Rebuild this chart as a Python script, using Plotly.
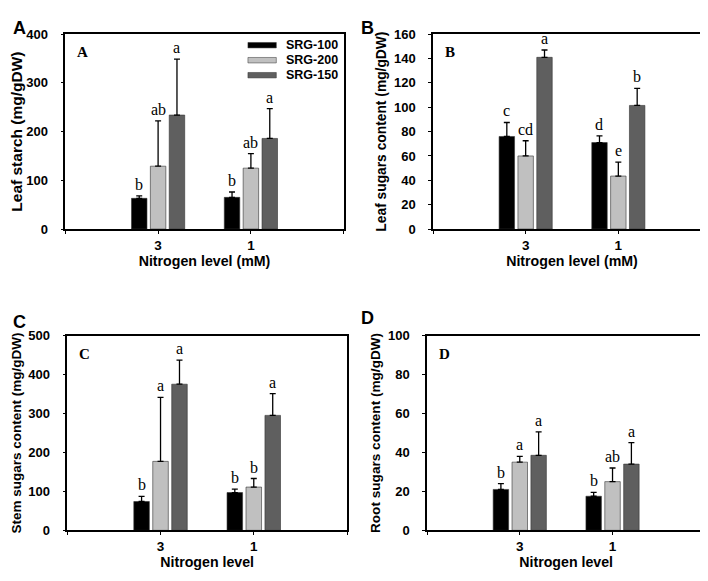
import plotly.graph_objects as go

# data
series = ["SRG-100", "SRG-200", "SRG-150"]
levels = ["3", "1"]
colors = ["#000000", "#c0c0c0", "#5f5f5f"]

starch_mean = [[63, 65], [129, 125], [234, 186]]
starch_err = [[5, 11], [93, 30], [115, 61]]
starch_let = [["b", "b"], ["ab", "ab"], ["a", "a"]]

leaf_mean = [[76, 71], [60, 43.5], [141, 101.5]]
leaf_err = [[11.5, 5.5], [12.5, 11.5], [6, 14]]
leaf_let = [["c", "d"], ["cd", "e"], ["a", "b"]]

stem_mean = [[74, 97], [177, 111], [375, 295]]
stem_err = [[13, 9], [164, 22], [62, 56]]
stem_let = [["b", "b"], ["a", "b"], ["a", "a"]]

root_mean = [[21, 17.5], [35, 25], [38.5, 34]]
root_err = [[3, 2], [3, 7], [12, 11]]
root_let = [["b", "b"], ["a", "ab"], ["a", "a"]]

W, H = 708, 581
BARGAP = 0.39

panels = [
    # key, means, errs, letters, ymax, dtick, ytitle, title size, xtitle, px box (l, r, top, bottom), tag, tag px pos
    ("", starch_mean, starch_err, starch_let, 400, 100, "Leaf starch (mg/gDW)", 15.5,
     "Nitrogen level (mM)", (57.3, 335.7, 19.7, 219.7), "A", (11, 13)),
    ("2", leaf_mean, leaf_err, leaf_let, 160, 20, "Leaf sugars content (mg/gDW)", 13.8,
     "Nitrogen level (mM)", (425, 703, 19.7, 219.7), "B", (359, 13)),
    ("3", stem_mean, stem_err, stem_let, 500, 100, "Stem sugars content (mg/gDW)", 13.5,
     "Nitrogen level", (59.3, 339, 329, 529), "C", (11, 315)),
    ("4", root_mean, root_err, root_let, 100, 20, "Root sugars content (mg/gDW)", 13.6,
     "Nitrogen level", (419, 697.3, 329, 529), "D", (359, 311)),
]

fig = go.Figure()
annotations = []
shapes = []
xpos = [1, 2]
bold = dict(family="Arial", color="black", weight="bold")

for key, means, errs, lets, ymax, dtick, ytitle, ysize, xtitle, box, tag, tagpos in panels:
    l, r, t, b = box
    xa, ya = "x" + key, "y" + key
    slot = (1 - BARGAP) / 3
    for i, name in enumerate(series):
        fig.add_trace(go.Bar(
            x=xpos, y=means[i], name=name, xaxis=xa, yaxis=ya,
            marker=dict(color=colors[i], line=dict(color="#333333", width=0.6)),
            error_y=dict(type="data", array=errs[i], arrayminus=[0, 0], symmetric=False,
                         color="black", thickness=1.3, width=3),
            showlegend=False, offsetgroup=str(i),
        ))
        for j in range(2):
            annotations.append(dict(
                x=xpos[j] + (i - 1) * slot, y=means[i][j] + errs[i][j], xref=xa, yref=ya,
                text=lets[i][j], showarrow=False, yanchor="bottom", yshift=1,
                font=dict(family="Liberation Serif", size=16, color="black")))

    ax = dict(domain=[l / W, r / W], range=[0, 3], tickvals=[0, 1, 2, 3],
              ticktext=["", levels[0], levels[1], ""], ticks="outside", ticklen=3,
              tickcolor="black", showline=True, linecolor="black", linewidth=1.5,
              mirror=True, showgrid=False, zeroline=False, anchor=ya,
              tickfont=dict(bold, size=13.5),
              title=dict(text=xtitle, standoff=3, font=dict(bold, size=14.2)))
    ay = dict(domain=[1 - b / H, 1 - t / H], range=[0, ymax], dtick=dtick, ticks="outside",
              ticklen=3, tickcolor="black", showline=True, linecolor="black", linewidth=1.5,
              mirror=True, showgrid=False, zeroline=False, anchor=xa,
              ticklabelstandoff=10,
              tickfont=dict(bold, size=13),
              title=dict(text=ytitle, standoff=4, font=dict(bold, size=ysize)))
    fig.update_layout({"xaxis" + key: ax, "yaxis" + key: ay})

    # inner serif panel tag
    annotations.append(dict(x=0, y=1, xref=xa + " domain", yref=ya + " domain",
                            xanchor="left", yanchor="top", xshift=10, yshift=-8,
                            text="<b>" + tag + "</b>", showarrow=False,
                            font=dict(family="Liberation Serif", size=15, color="black")))
    # outer sans panel tag
    annotations.append(dict(x=tagpos[0] / W, y=1 - tagpos[1] / H, xref="paper", yref="paper",
                            xanchor="center", yanchor="middle", text="<b>" + tag + "</b>",
                            showarrow=False, font=dict(family="Arial", size=18, color="black")))

# legend drawn inside panel A
for i, name in enumerate(series):
    yc = 0.9435 - i * 0.077
    shapes.append(dict(type="rect", xref="x domain", yref="y domain",
                       x0=0.656, x1=0.758, y0=yc - 0.014, y1=yc + 0.014,
                       fillcolor=colors[i], line=dict(color="#333333", width=0.5)))
    annotations.append(dict(x=0.786, y=yc, xref="x domain", yref="y domain",
                            xanchor="left", yanchor="middle", text="<b>" + name + "</b>",
                            showarrow=False,
                            font=dict(family="Arial", size=12.5, color="black")))

fig.update_layout(
    width=W, height=H, margin=dict(l=0, r=0, t=0, b=0),
    barmode="group", bargap=BARGAP, bargroupgap=0.18,
    plot_bgcolor="white", paper_bgcolor="white",
    annotations=annotations, shapes=shapes,
)

fig.write_html("out.html")
